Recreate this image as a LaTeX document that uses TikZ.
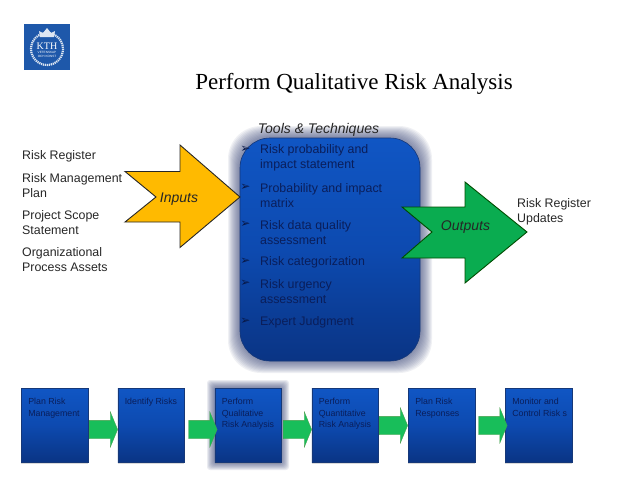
\documentclass[tikz,border=0pt]{standalone}
\usepackage{fontspec}
\setmainfont{Liberation Sans}
\newfontfamily\titlefont{Liberation Serif}
\newfontfamily\bulletfont{DejaVu Sans}
\usepackage{tikz}
\usetikzlibrary{arrows.meta,shapes.arrows,positioning,shadows}
\definecolor{kthblue}{RGB}{30,88,170}
\definecolor{boxtop}{RGB}{16,86,196}
\definecolor{boxmid}{RGB}{13,74,176}
\definecolor{boxlow}{RGB}{10,52,132}
\definecolor{boxline}{RGB}{22,56,120}
\definecolor{navytext}{RGB}{10,30,90}
\definecolor{glowcol}{RGB}{60,72,120}
\definecolor{inamber}{RGB}{255,186,0}
\definecolor{outgreen}{RGB}{10,172,80}
\definecolor{stepgreen}{RGB}{24,190,90}
\begin{document}
\begin{tikzpicture}[
  x=1pt,y=-1pt,
  heading/.style={font=\titlefont\fontsize{23}{27}\selectfont,inner sep=0pt},
  plain/.style={font=\fontsize{12.4}{15}\selectfont,align=left,inner sep=0pt,text=black!85},
  slant/.style={font=\itshape\fontsize{14}{16}\selectfont,inner sep=0pt,text=black!85},
  bigarrow/.style={draw=black!85,line width=0.9pt,line join=miter},
  toolbox/.style={draw=boxline,line width=0.6pt,rounded corners=30pt,
                  minimum width=180pt,minimum height=223pt,
                  top color=boxtop,bottom color=boxlow,middle color=boxmid},
  tool/.style={font=\fontsize{12.4}{15}\selectfont,align=left,inner sep=0pt,
               text=navytext,anchor=west},
  toolmark/.style={font=\bulletfont\bfseries\fontsize{12}{12}\selectfont,inner sep=0pt,text=navytext!80!black},
  stepbox/.style={minimum width=66.5pt,minimum height=74pt,inner sep=0pt,
                  top color=boxtop,bottom color=boxlow,middle color=boxmid,
                  draw=boxline,line width=0.3pt,
                  drop shadow={shadow xshift=0pt,shadow yshift=-1.5pt,opacity=.3}},
  steptext/.style={font=\fontsize{8.8}{11.4}\selectfont,align=left,inner sep=0pt,
                   text=navytext},
  steparrow/.style={single arrow,single arrow tip angle=135,text height=18pt,
                    single arrow head extend=8.5pt,minimum height=28.5pt,anchor=tail,
                    inner sep=0pt,fill=stepgreen,draw=green!45!black!70,line width=0.3pt}
]
\useasboundingbox (0,0) rectangle (638,479);

%% logo
\node[fill=kthblue,minimum size=46pt,inner sep=0pt] (logo) at (47,47) {};
\draw[white!85!kthblue,line width=2.2pt,dash pattern=on 1.2pt off 0.8pt] (47,49) circle (16);
\fill[white!85!kthblue] (40,37) -- (39,31) -- (43,33) -- (47,28) -- (51,33) -- (55,31) -- (54,37) -- cycle;
\node[text=white,font=\titlefont\fontsize{10}{10}\selectfont,inner sep=0pt] (kth) at (47,46) {KTH};
\node[text=white,font=\fontsize{3.1}{4}\selectfont,align=center,inner sep=0pt,below=1.5pt of kth] (motto) {VETENSKAP\\OCH KONST};

\node[heading] (title) at (354,83.5) {Perform Qualitative Risk Analysis};

%% inputs
\node[plain,anchor=west] (in1) at (22,156) {Risk Register};
\node[plain,anchor=west] (in2) at (22,185.5) {Risk Management\\Plan};
\node[plain,anchor=west] (in3) at (22,222.5) {Project Scope\\Statement};
\node[plain,anchor=west] (in4) at (22,260) {Organizational\\Process Assets};

%% glow round the middle box
\foreach \g in {12,11,...,1}
  \fill[glowcol,opacity=.08,rounded corners=33pt] (240-\g,138-\g) rectangle (420+\g,361+\g);
\node[toolbox] (tools) at (330,249.5) {};
\node[slant,above=1pt of tools.north,xshift=-11.5pt] (techniques) {Tools \& Techniques};

%% big arrows
\draw[bigarrow,fill=inamber] (125,171.5) -- (180,171.5) -- (180,145) -- (240,197)
  -- (180,247.5) -- (180,222) -- (125,222) -- (156,197) -- cycle;
\node[slant] (inputs) at (179,199) {Inputs};

\draw[bigarrow,draw=green!30!black,fill=outgreen] (402,207) -- (465,207) -- (465,182) -- (527,232)
  -- (465,283) -- (465,258) -- (402,258) -- (432,232) -- cycle;
\node[slant] (outputs) at (465.5,227) {Outputs};

\node[plain,anchor=west] (updates) at (517,211.5) {Risk Register\\Updates};

%% tools list
\foreach \name/\y/\txt in {
    t1/158/{Risk probability and\\impact statement},
    t2/195.5/{Probability and impact\\matrix},
    t3/232.5/{Risk data quality\\assessment},
    t4/262/{Risk categorization},
    t5/291.5/{Risk urgency\\assessment},
    t6/322/{Expert Judgment}}{
  \node[tool] (\name) at (260,\y) {\txt};
}
\foreach \name/\y in {t1/149,t2/187,t3/224,t4/261,t5/283,t6/321}
  \node[toolmark] (\name-mark) at (245.5,\y) {➢};

%% process steps
\foreach \g in {8,7,...,1}
  \fill[glowcol,opacity=.11,rounded corners=3pt] (215-\g,388-\g) rectangle (281+\g,462+\g);
\foreach \name/\x/\txt in {
    plan/54.5/{Plan Risk\\Management},
    identify/151/{Identify Risks},
    qual/248/{Perform\\Qualitative\\Risk Analysis},
    quant/345/{Perform\\Quantitative\\Risk Analysis},
    respond/441.5/{Plan Risk\\Responses},
    monitor/538.5/{Monitor and\\Control Risk s}}{
  \node[stepbox] (\name) at (\x,425) {};
  \node[steptext,anchor=north west,below right=10.5pt and 7pt of \name.north west] (\name-t) {\txt};
}
\node[steparrow] (a1) at (89,429.5) {};
\node[steparrow] (a2) at (188.5,429.5) {};
\node[steparrow] (a3) at (283,429.5) {};
\node[steparrow] (a4) at (379,425.5) {};
\node[steparrow] (a5) at (478.5,425.5) {};
\end{tikzpicture}
\end{document}
